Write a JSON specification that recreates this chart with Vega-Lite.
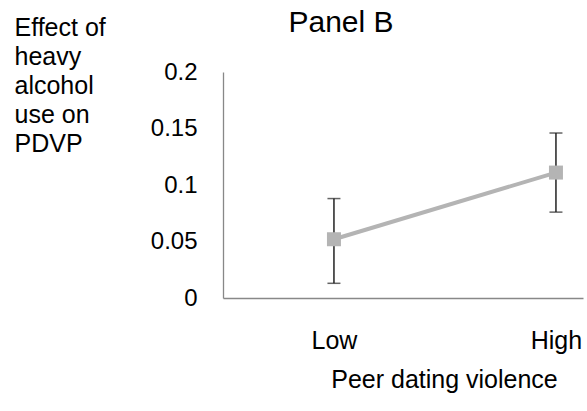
{
  "$schema": "https://vega.github.io/schema/vega-lite/v6.json",
  "autosize": "none",
  "padding": {"left": 223, "top": 72, "right": 4, "bottom": 113},
  "width": 360,
  "height": 226,
  "background": "white",
  "config": {
    "view": {"stroke": null},
    "font": "Liberation Sans",
    "axis": {"grid": false, "ticks": false, "tickSize": 0, "domainColor": "#888888", "domainWidth": 1.3, "labelColor": "#000000", "titleColor": "#000000", "titleFontWeight": "normal", "labelFont": "Liberation Sans", "titleFont": "Liberation Sans"}
  },
  "title": {"text": "Panel B", "fontSize": 30, "fontWeight": "normal", "color": "#000000", "anchor": "middle", "dx": -62, "dy": 47, "baseline": "alphabetic", "offset": 0, "font": "Liberation Sans"},
  "data": {
    "values": [
      {"level": "Low", "effect": 0.052, "lower": 0.013, "upper": 0.088},
      {"level": "High", "effect": 0.111, "lower": 0.076, "upper": 0.146}
    ]
  },
  "encoding": {
    "x": {
      "field": "level",
      "type": "ordinal",
      "sort": ["Low", "High"],
      "scale": {"type": "point", "padding": 0.3108, "align": 0.804},
      "axis": {"labelAngle": 0, "labelFontSize": 25, "labelPadding": 30, "labelBaseline": "top", "title": "Peer dating violence", "titleFontSize": 25, "titleX": 221, "titleY": 89, "titleBaseline": "alphabetic", "titleAnchor": null}
    }
  },
  "layer": [
    {
      "mark": {"type": "line", "color": "#b4b4b4", "strokeWidth": 4},
      "encoding": {
        "y": {
          "field": "effect",
          "type": "quantitative",
          "scale": {"domain": [0, 0.2], "nice": false, "zero": true},
          "axis": {"values": [0, 0.05, 0.1, 0.15, 0.2], "format": "~g", "labelFontSize": 24, "labelPadding": 26, "title": ["Effect of", "heavy", "alcohol", "use on", "PDVP"], "titleAngle": 0, "titleAlign": "left", "titleBaseline": "alphabetic", "titleFontSize": 25, "titleLineHeight": 29, "titleX": -209, "titleY": -37, "titleAnchor": null}
        }
      }
    },
    {
      "mark": {"type": "rule", "color": "#222222", "strokeWidth": 1.5},
      "encoding": {
        "y": {"field": "lower", "type": "quantitative"},
        "y2": {"field": "upper"}
      }
    },
    {
      "mark": {"type": "tick", "color": "#222222", "size": 13, "thickness": 1.5},
      "encoding": {"y": {"field": "lower", "type": "quantitative"}}
    },
    {
      "mark": {"type": "tick", "color": "#222222", "size": 13, "thickness": 1.5},
      "encoding": {"y": {"field": "upper", "type": "quantitative"}}
    },
    {
      "mark": {"type": "point", "shape": "square", "filled": true, "size": 196, "color": "#b4b4b4", "opacity": 1},
      "encoding": {"y": {"field": "effect", "type": "quantitative"}}
    }
  ]
}
